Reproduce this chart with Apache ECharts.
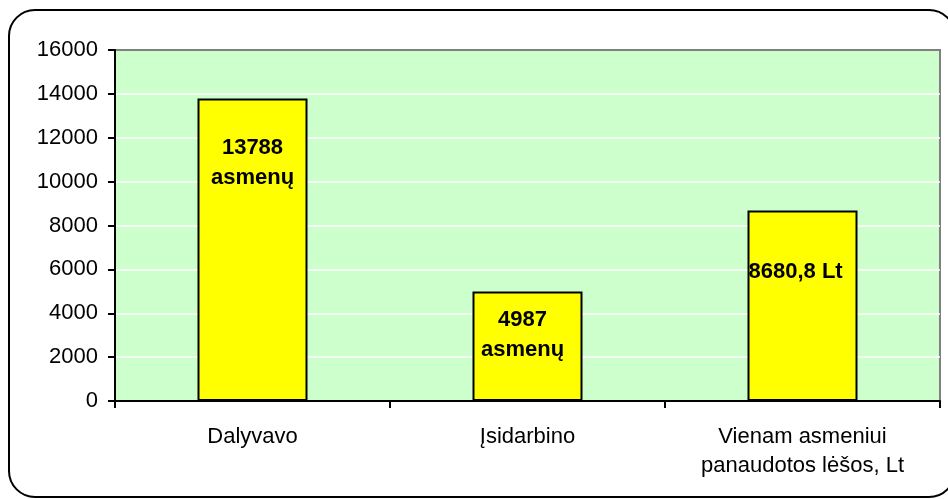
<!DOCTYPE html>
<html>
<head>
<meta charset="utf-8">
<script src="https://cdn.jsdelivr.net/npm/echarts@6/dist/echarts.min.js"></script>
<style>
  html, body { margin: 0; padding: 0; background: #fff; }
  #chart { width: 948px; height: 499px; }
</style>
</head>
<body>
<div id="chart"></div>
<script>
// duomenys
const categories = ['Dalyvavo', 'Įsidarbino', 'Vienam asmeniui\npanaudotos lėšos, Lt'];
const values = [13788, 4987, 8680.8];
const barLabels = ['13788\nasmenų', '4987\nasmenų', '8680,8 Lt'];

// etikečių vietos stulpelio viduje (px nuo kairės / viršaus)
const labelPos = [
  { position: ['50%', 34], align: 'center' },
  { position: [50, 13], align: 'center' },
  { position: [1, 46], align: 'left' }
];

const chart = echarts.init(document.getElementById('chart'));

const option = {
  animation: false,
  backgroundColor: '#fff',
  textStyle: { fontFamily: 'Liberation Sans, Arial, sans-serif' },
  graphic: [{
    type: 'rect',
    shape: { x: 9, y: 10, width: 946, height: 487, r: 26 },
    style: { fill: 'none', stroke: '#000', lineWidth: 2 },
    z: 100
  }],
  grid: {
    left: 115, top: 50, right: 8, bottom: 98,
    show: true,
    backgroundColor: '#CCFFCC',
    borderColor: '#808080',
    borderWidth: 2
  },
  xAxis: {
    type: 'category',
    data: categories,
    axisLine: { lineStyle: { color: '#000', width: 2 } },
    axisTick: { show: true, length: 7, lineStyle: { color: '#000', width: 2 } },
    axisLabel: { color: '#000', fontSize: 22, lineHeight: 29, margin: 21 }
  },
  yAxis: {
    type: 'value',
    min: 0, max: 16000, interval: 2000,
    axisLine: { show: true, lineStyle: { color: '#000', width: 2 } },
    axisTick: { show: true, length: 7, lineStyle: { color: '#000', width: 2 } },
    axisLabel: { color: '#000', fontSize: 22, margin: 17, formatter: v => String(v) },
    splitLine: { showMaxLine: false, lineStyle: { color: '#fff', width: 1.5 } }
  },
  series: [{
    type: 'bar',
    barWidth: '40%',
    data: values.map((v, i) => ({
      value: v,
      label: {
        show: true,
        formatter: barLabels[i],
        position: labelPos[i].position,
        align: labelPos[i].align,
        verticalAlign: 'top',
        color: '#000',
        fontWeight: 'bold',
        fontSize: 22,
        lineHeight: 30
      }
    })),
    itemStyle: { color: '#FFFF00', borderColor: '#000', borderWidth: 2 }
  }]
};

chart.setOption(option);
</script>
</body>
</html>
